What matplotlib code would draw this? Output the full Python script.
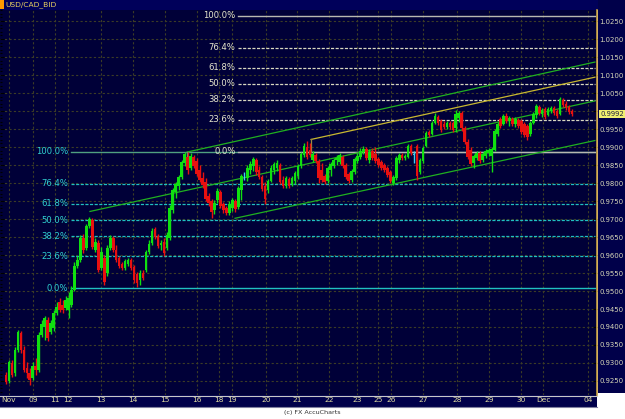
import matplotlib
matplotlib.use("Agg")
import matplotlib.pyplot as plt
import numpy as np
from matplotlib.patches import Rectangle
from matplotlib.ticker import MultipleLocator

# ---------------- data ----------------
title = "USD/CAD_BID"
footer = "(c) FX AccuCharts"

opens = [0.9267, 0.9250, 0.9300, 0.9272, 0.9336, 0.9383, 0.9336, 0.9286, 0.9272, 0.9258,
         0.9292, 0.9281, 0.9378, 0.9400, 0.9419, 0.9386, 0.9397, 0.9439, 0.9469, 0.9461,
         0.9453, 0.9447, 0.9461, 0.9503, 0.9569, 0.9586, 0.9647, 0.9619, 0.9681, 0.9697,
         0.9614, 0.9633, 0.9564, 0.9592, 0.9550, 0.9619, 0.9647, 0.9614, 0.9592, 0.9575,
         0.9564, 0.9575, 0.9586, 0.9567, 0.9547, 0.9531, 0.9550, 0.9558, 0.9608, 0.9633,
         0.9672, 0.9653, 0.9628, 0.9636, 0.9619, 0.9647, 0.9725, 0.9775, 0.9792, 0.9817,
         0.9856, 0.9872, 0.9842, 0.9872, 0.9861, 0.9836, 0.9814, 0.9803, 0.9764, 0.9750,
         0.9725, 0.9753, 0.9775, 0.9742, 0.9731, 0.9717, 0.9731, 0.9750, 0.9733, 0.9781,
         0.9819, 0.9814, 0.9836, 0.9847, 0.9864, 0.9836, 0.9817, 0.9792, 0.9781, 0.9806,
         0.9836, 0.9842, 0.9850, 0.9808, 0.9792, 0.9811, 0.9797, 0.9806, 0.9819, 0.9847,
         0.9878, 0.9900, 0.9892, 0.9864, 0.9878, 0.9861, 0.9836, 0.9819, 0.9806, 0.9836,
         0.9847, 0.9864, 0.9858, 0.9872, 0.9850, 0.9825, 0.9808, 0.9831, 0.9861, 0.9872,
         0.9886, 0.9894, 0.9864, 0.9889, 0.9881, 0.9867, 0.9858, 0.9850, 0.9842, 0.9831,
         0.9800, 0.9814, 0.9864, 0.9878, 0.9869, 0.9872, 0.9903, 0.9878, 0.9903, 0.9831,
         0.9861, 0.9903, 0.9942, 0.9936, 0.9967, 0.9983, 0.9972, 0.9964, 0.9956, 0.9967,
         0.9967, 0.9953, 0.9981, 0.9994, 0.9953, 0.9914, 0.9892, 0.9856, 0.9869, 0.9883,
         0.9864, 0.9875, 0.9883, 0.9875, 0.9892, 0.9936, 0.9978, 0.9964, 0.9986, 0.9972,
         0.9978, 0.9964, 0.9975, 0.9972, 0.9964, 0.9958, 0.9936, 0.9967, 0.9989, 1.0011,
         0.9992, 1.0006, 0.9989, 1.0000, 1.0008, 1.0000, 0.9992, 1.0031, 1.0019, 1.0011,
         1.0000]
highs = [0.9275, 0.9308, 0.9308, 0.9344, 0.9392, 0.9389, 0.9347, 0.9303, 0.9286, 0.9303,
         0.9314, 0.9386, 0.9419, 0.9431, 0.9428, 0.9419, 0.9447, 0.9469, 0.9481, 0.9475,
         0.9486, 0.9497, 0.9514, 0.9581, 0.9597, 0.9656, 0.9658, 0.9686, 0.9706, 0.9703,
         0.9647, 0.9642, 0.9622, 0.9600, 0.9628, 0.9656, 0.9653, 0.9628, 0.9597, 0.9581,
         0.9589, 0.9592, 0.9592, 0.9572, 0.9553, 0.9558, 0.9558, 0.9614, 0.9642, 0.9675,
         0.9678, 0.9658, 0.9642, 0.9647, 0.9664, 0.9739, 0.9786, 0.9803, 0.9822, 0.9864,
         0.9886, 0.9886, 0.9883, 0.9878, 0.9869, 0.9850, 0.9831, 0.9814, 0.9772, 0.9756,
         0.9753, 0.9786, 0.9781, 0.9747, 0.9736, 0.9750, 0.9758, 0.9756, 0.9792, 0.9825,
         0.9831, 0.9850, 0.9861, 0.9872, 0.9869, 0.9847, 0.9822, 0.9803, 0.9811, 0.9850,
         0.9858, 0.9864, 0.9856, 0.9819, 0.9819, 0.9817, 0.9819, 0.9833, 0.9853, 0.9886,
         0.9911, 0.9917, 0.9911, 0.9889, 0.9883, 0.9867, 0.9856, 0.9825, 0.9847, 0.9858,
         0.9869, 0.9878, 0.9883, 0.9878, 0.9856, 0.9831, 0.9839, 0.9872, 0.9883, 0.9897,
         0.9903, 0.9900, 0.9894, 0.9897, 0.9900, 0.9872, 0.9864, 0.9856, 0.9847, 0.9836,
         0.9822, 0.9875, 0.9883, 0.9883, 0.9881, 0.9908, 0.9908, 0.9889, 0.9908, 0.9869,
         0.9903, 0.9944, 0.9947, 0.9972, 0.9994, 0.9989, 0.9978, 0.9972, 0.9972, 0.9972,
         0.9972, 1.0003, 1.0000, 1.0000, 0.9958, 0.9922, 0.9900, 0.9881, 0.9889, 0.9889,
         0.9886, 0.9894, 0.9897, 0.9900, 0.9950, 0.9969, 0.9983, 0.9992, 0.9994, 0.9986,
         0.9983, 0.9983, 0.9981, 0.9978, 0.9969, 0.9964, 0.9972, 0.9997, 1.0019, 1.0017,
         1.0008, 1.0011, 1.0011, 1.0014, 1.0014, 1.0006, 1.0039, 1.0036, 1.0028, 1.0017,
         1.0006]
lows = [0.9242, 0.9244, 0.9261, 0.9264, 0.9331, 0.9328, 0.9275, 0.9258, 0.9239, 0.9253,
        0.9267, 0.9275, 0.9372, 0.9364, 0.9361, 0.9381, 0.9389, 0.9433, 0.9442, 0.9439,
        0.9447, 0.9425, 0.9456, 0.9500, 0.9564, 0.9581, 0.9606, 0.9614, 0.9675, 0.9617,
        0.9608, 0.9553, 0.9558, 0.9517, 0.9542, 0.9614, 0.9608, 0.9581, 0.9564, 0.9558,
        0.9558, 0.9569, 0.9558, 0.9522, 0.9511, 0.9517, 0.9531, 0.9553, 0.9603, 0.9628,
        0.9644, 0.9619, 0.9614, 0.9597, 0.9614, 0.9642, 0.9717, 0.9758, 0.9781, 0.9811,
        0.9847, 0.9825, 0.9836, 0.9842, 0.9819, 0.9803, 0.9786, 0.9750, 0.9736, 0.9703,
        0.9714, 0.9744, 0.9731, 0.9717, 0.9711, 0.9711, 0.9722, 0.9719, 0.9728, 0.9753,
        0.9808, 0.9806, 0.9825, 0.9833, 0.9822, 0.9811, 0.9778, 0.9742, 0.9772, 0.9803,
        0.9825, 0.9833, 0.9797, 0.9786, 0.9786, 0.9786, 0.9792, 0.9797, 0.9811, 0.9842,
        0.9872, 0.9867, 0.9872, 0.9858, 0.9856, 0.9800, 0.9803, 0.9797, 0.9800, 0.9819,
        0.9842, 0.9850, 0.9853, 0.9842, 0.9811, 0.9800, 0.9803, 0.9825, 0.9856, 0.9867,
        0.9881, 0.9864, 0.9856, 0.9864, 0.9856, 0.9844, 0.9836, 0.9831, 0.9817, 0.9800,
        0.9794, 0.9808, 0.9856, 0.9864, 0.9864, 0.9869, 0.9878, 0.9856, 0.9808, 0.9825,
        0.9856, 0.9900, 0.9928, 0.9933, 0.9964, 0.9961, 0.9942, 0.9950, 0.9950, 0.9950,
        0.9942, 0.9942, 0.9969, 0.9944, 0.9908, 0.9867, 0.9847, 0.9842, 0.9864, 0.9856,
        0.9858, 0.9869, 0.9875, 0.9831, 0.9889, 0.9931, 0.9953, 0.9961, 0.9967, 0.9958,
        0.9958, 0.9956, 0.9953, 0.9936, 0.9928, 0.9919, 0.9931, 0.9964, 0.9981, 0.9989,
        0.9983, 0.9978, 0.9986, 0.9994, 0.9989, 0.9981, 0.9989, 1.0011, 1.0003, 0.9992,
        0.9986]
closes = [0.9247, 0.9303, 0.9267, 0.9336, 0.9386, 0.9336, 0.9281, 0.9272, 0.9253, 0.9292,
          0.9281, 0.9378, 0.9408, 0.9425, 0.9369, 0.9411, 0.9439, 0.9456, 0.9447, 0.9447,
          0.9475, 0.9481, 0.9503, 0.9569, 0.9586, 0.9647, 0.9614, 0.9681, 0.9700, 0.9622,
          0.9636, 0.9558, 0.9608, 0.9525, 0.9619, 0.9647, 0.9614, 0.9586, 0.9569, 0.9564,
          0.9583, 0.9586, 0.9564, 0.9531, 0.9522, 0.9550, 0.9536, 0.9608, 0.9631, 0.9667,
          0.9650, 0.9625, 0.9633, 0.9606, 0.9656, 0.9731, 0.9781, 0.9797, 0.9817, 0.9858,
          0.9881, 0.9836, 0.9875, 0.9847, 0.9825, 0.9808, 0.9794, 0.9756, 0.9744, 0.9719,
          0.9744, 0.9778, 0.9736, 0.9725, 0.9717, 0.9742, 0.9753, 0.9728, 0.9786, 0.9819,
          0.9819, 0.9842, 0.9853, 0.9867, 0.9831, 0.9817, 0.9783, 0.9756, 0.9806, 0.9842,
          0.9853, 0.9856, 0.9803, 0.9792, 0.9814, 0.9792, 0.9814, 0.9828, 0.9847, 0.9881,
          0.9903, 0.9872, 0.9878, 0.9881, 0.9861, 0.9814, 0.9808, 0.9803, 0.9842, 0.9853,
          0.9864, 0.9869, 0.9878, 0.9847, 0.9817, 0.9806, 0.9833, 0.9867, 0.9875, 0.9889,
          0.9894, 0.9869, 0.9886, 0.9869, 0.9861, 0.9850, 0.9842, 0.9836, 0.9822, 0.9806,
          0.9817, 0.9869, 0.9878, 0.9869, 0.9875, 0.9903, 0.9883, 0.9878, 0.9819, 0.9864,
          0.9897, 0.9939, 0.9933, 0.9967, 0.9986, 0.9967, 0.9947, 0.9956, 0.9967, 0.9956,
          0.9947, 0.9992, 0.9994, 0.9953, 0.9914, 0.9872, 0.9853, 0.9875, 0.9883, 0.9861,
          0.9881, 0.9889, 0.9892, 0.9894, 0.9944, 0.9964, 0.9958, 0.9986, 0.9972, 0.9981,
          0.9964, 0.9978, 0.9958, 0.9942, 0.9933, 0.9928, 0.9967, 0.9992, 1.0014, 0.9994,
          1.0003, 0.9983, 1.0006, 1.0008, 0.9994, 0.9986, 1.0033, 1.0017, 1.0008, 0.9997,
          0.9992]

# day labels and the candle index where each one falls
day_labels = ["Nov", "09", "11", "12", "13", "14", "15", "16", "18", "19", "20", "21",
              "22", "23", "25", "26", "27", "28", "29", "30", "Dec", "04"]
day_index = [1.0, 9.1, 16.4, 20.8, 31.9, 42.6, 53.4, 64.1, 71.5, 75.9, 87.3, 97.7,
             108.4, 117.8, 124.9, 129.2, 140.0, 151.4, 162.1, 172.9, 180.3, 195.4]

# Fibonacci retracements
fib_ratios = [0.0, 0.236, 0.382, 0.5, 0.618, 0.764, 1.0]
fib_texts = ["0.0%", "23.6%", "38.2%", "50.0%", "61.8%", "76.4%", "100.0%"]
fib1_low, fib1_high, fib1_start = 0.9507, 0.9887, 22.0
fib2_low, fib2_high, fib2_start = 0.9887, 1.0265, 78.0
fib_end = 197.7

# trend channel lines: (start index, start price, end index, end price)
green_lines = [(60.8, 0.9886, 197.7, 1.0136),
               (28.2, 0.9721, 197.7, 1.0028),
               (76.9, 0.9702, 197.7, 0.9918)]
green_anchor = (60.8, 0.9886, 0.9850)
yellow_line = (102.4, 0.9921, 197.7, 1.0094)
yellow_anchor = (102.4, 0.9921, 0.9887)

y_ticks = [0.9250, 0.9300, 0.9350, 0.9400, 0.9450, 0.9500, 0.9550, 0.9600, 0.9650,
           0.9700, 0.9750, 0.9800, 0.9850, 0.9900, 0.9950, 1.0000, 1.0050, 1.0100,
           1.0150, 1.0200, 1.0250]

# ---------------- style ----------------
W, H = 625, 419
BG = "#000038"
PANEL = "#00004a"
UP = "#10e010"
DOWN = "#e81010"
DOJI = "#40d0f0"
FIB1 = "#20c0c0"
FIB1_TOP = "#50a080"
FIB2 = "#d8d8c0"
FIB2_SOLID = "#b8b8b0"
CHAN = "#20b020"
YEL = "#c8b830"
GRID = "#3c3c26"
AXTXT = "#e0dca0"

fig = plt.figure(figsize=(W / 100, H / 100), dpi=100, facecolor="white")

def px_rect(x0, y0, x1, y1, color, z=-1):
    fig.add_artist(Rectangle((x0 / W, 1 - y1 / H), (x1 - x0) / W, (y1 - y0) / H,
                             transform=fig.transFigure, facecolor=color,
                             edgecolor="none", zorder=z))

px_rect(0, 0, W, 10, "#00005a")
px_rect(598, 0, W, 393, PANEL)
px_rect(0, 395, 597, 407, PANEL)
fig.add_artist(plt.Line2D([0, 597 / W], [1 - 395.5 / H] * 2, transform=fig.transFigure,
                          color="#c8c8c8", lw=0.8, zorder=-0.5))
fig.add_artist(plt.Line2D([0, 597 / W], [1 - 406.5 / H] * 2, transform=fig.transFigure,
                          color="#8080a0", lw=0.8, zorder=-0.5))
px_rect(0, 0, 3.5, 9.5, "#ff9900", z=2)
fig.text(5 / W, 1 - 5 / H, title, color="#e8d060", fontsize=5.4, ha="left", va="center")
fig.text(0.5, 1 - 412.5 / H, footer, color="#303030", fontsize=4.6, ha="center", va="center")

ax = fig.add_axes([0, 24 / H, 597 / W, 385 / H])
ax.set_facecolor(BG)
ax.set_xlim(-2.0, 198.4)
ax.set_ylim(0.92111, 1.02806)

# grid and ticks (the label under the last-price marker is hidden, as in the source)
last = closes[-1]
ax.set_yticks(y_ticks)
ax.set_yticklabels(["" if abs(v - last) < 0.0015 else f"{v:.4f}" for v in y_ticks])
ax.set_xticks(day_index)
ax.set_xticklabels(day_labels)
ax.grid(True, color=GRID, lw=0.8, ls=(0, (2, 2)))
ax.set_axisbelow(True)
ax.yaxis.set_minor_locator(MultipleLocator(0.001))

ax.tick_params(axis="x", length=0, pad=1.6, labelsize=5.4, colors=AXTXT)
ax.tick_params(axis="y", which="major", left=True, right=True, labelleft=False,
               labelright=True, length=3, width=0.8, direction="in", pad=1.8,
               labelsize=4.95, labelcolor="#d8d8b8")
ax.tick_params(axis="y", which="minor", left=True, right=False, length=1.5,
               width=0.8, direction="in")
for t in ax.yaxis.get_major_ticks():
    t.tick1line.set_color("white")
    t.tick2line.set_color("#c8a040")
for t in ax.yaxis.get_minor_ticks():
    t.tick1line.set_color("#d0d0d0")

for s in ["top", "bottom", "left"]:
    ax.spines[s].set_visible(False)
ax.spines["right"].set_color("#c8a040")
ax.spines["right"].set_linewidth(1.2)

# fib levels
for r, txt in zip(fib_ratios, fib_texts):
    lvl = fib1_low + r * (fib1_high - fib1_low)
    if r == 0.0:
        ax.plot([fib1_start, fib_end], [lvl, lvl], color=FIB1, lw=1.0, zorder=2)
    elif r == 1.0:
        ax.plot([fib1_start, fib_end], [lvl, lvl], color=FIB1_TOP, lw=1.0, zorder=2)
    else:
        ax.plot([fib1_start, fib_end], [lvl, lvl], color=FIB1, lw=0.9,
                ls=(0, (2.5, 1.2)), zorder=2)
    ax.annotate(txt, xy=(fib1_start, lvl), xytext=(-2.2, 0), textcoords="offset points",
                ha="right", va="center", fontsize=6.1, color="#30d0d0", zorder=5)

for r, txt in zip(fib_ratios, fib_texts):
    lvl = fib2_low + r * (fib2_high - fib2_low)
    if r in (0.0, 1.0):
        ax.plot([fib2_start, fib_end], [lvl, lvl], color=FIB2_SOLID, lw=1.0, zorder=2.1)
    else:
        ax.plot([fib2_start, fib_end], [lvl, lvl], color=FIB2, lw=0.9,
                ls=(0, (2.5, 1.2)), zorder=2.1)
    ax.annotate(txt, xy=(fib2_start, lvl), xytext=(-2.0, 0), textcoords="offset points",
                ha="right", va="center", fontsize=6.1, color="#e6e6cc", zorder=5)

# channels
for (x0, p0, x1, p1) in green_lines:
    ax.plot([x0, x1], [p0, p1], color=CHAN, lw=0.9, zorder=3)
ax.plot([green_anchor[0]] * 2, green_anchor[1:], color="#6a9a7a", lw=0.9, zorder=3)
ax.plot([yellow_line[0], yellow_line[2]], [yellow_line[1], yellow_line[3]], color=YEL,
        lw=0.9, zorder=3)
ax.plot([yellow_anchor[0]] * 2, yellow_anchor[1:], color="#a08840", lw=0.9, zorder=3)

# candles
o = np.array(opens); h = np.array(highs); l = np.array(lows); c = np.array(closes)
x = np.arange(len(c))
cols = np.where(c > o, UP, np.where(c < o, DOWN, DOJI))
ax.vlines(x, l, h, colors=cols, lw=1.0, zorder=4)
body = np.maximum(np.abs(c - o), 0.00014)
ax.bar(x, body, bottom=np.minimum(o, c), width=0.88, color=cols, lw=0, zorder=4)

# last price marker
ax.annotate(f"{last:.4f}", xy=(1.0, last), xycoords=("axes fraction", "data"),
            xytext=(2.2, 0), textcoords="offset points", ha="left", va="center",
            fontsize=4.95, color="#202040", annotation_clip=False, zorder=6,
            bbox=dict(boxstyle="square,pad=0.12", fc="#f0f070", ec="none"))

fig.savefig("out.png", dpi=100, facecolor="white")
